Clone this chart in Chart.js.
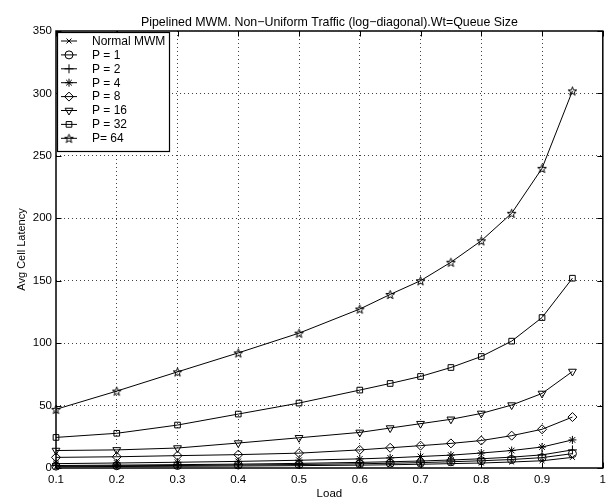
<!DOCTYPE html>
<html>
<head>
<meta charset="utf-8">
<script src="https://cdn.jsdelivr.net/npm/chart.js@4.4.1/dist/chart.umd.min.js"></script>
<style>
  html, body { margin: 0; padding: 0; background: #fff; }
  canvas { display: block; }
</style>
</head>
<body>
<canvas id="c" width="611" height="498"></canvas>
<script>
// ---- data ----
const loads = [0.1, 0.2, 0.3, 0.4, 0.5, 0.6, 0.65, 0.7, 0.75, 0.8, 0.85, 0.9, 0.95];
const normalMWM = [1.0, 1.2, 1.4, 1.6, 1.9, 2.3, 2.6, 3.0, 3.5, 4.0, 4.8, 5.8, 8.5];
const p1  = [1.5, 1.8, 2.0, 2.4, 2.8, 3.4, 3.8, 4.3, 5.0, 5.8, 6.8, 8.3, 11.5];
const p2  = [2.0, 2.3, 2.7, 3.1, 3.7, 4.5, 5.0, 5.6, 6.4, 7.4, 8.7, 10.5, 14.5];
const p4  = [3.5, 4.0, 4.6, 5.3, 6.2, 7.3, 8.1, 9.2, 10.3, 12.0, 14.0, 16.8, 22.5];
const p8  = [8.5, 9.0, 9.9, 10.7, 11.9, 14.5, 16.2, 17.9, 19.7, 22.0, 25.9, 31.0, 40.8];
const p16 = [14.0, 14.5, 16.0, 20.0, 24.2, 28.5, 32.0, 35.5, 39.0, 43.7, 50.4, 59.7, 77.3];
const p32 = [24.5, 27.8, 34.4, 43.2, 52.0, 62.4, 67.7, 73.3, 80.5, 89.3, 101.6, 120.5, 152.0];
const p64 = [47.0, 61.6, 77.0, 92.2, 108.0, 127.3, 139.0, 150.0, 164.8, 182.0, 204.0, 240.0, 302.0];

const seriesNames = ['Normal MWM', 'P = 1', 'P = 2', 'P = 4', 'P = 8', 'P = 16', 'P = 32', 'P= 64'];
const seriesValues = [normalMWM, p1, p2, p4, p8, p16, p32, p64];

const xTickValues = [0.1, 0.2, 0.3, 0.4, 0.5, 0.6, 0.7, 0.8, 0.9, 1.0];
const xTickLabels = ['0.1', '0.2', '0.3', '0.4', '0.5', '0.6', '0.7', '0.8', '0.9', '1'];
const yTickValues = [0, 50, 100, 150, 200, 250, 300, 350];
const yTickLabels = ['0', '50', '100', '150', '200', '250', '300', '350'];

const titleText = 'Pipelined MWM. Non\u2212Uniform Traffic (log\u2212diagonal).Wt=Queue Size';
const xTitle = 'Load';
const yTitle = 'Avg Cell Latency';

// ---- styles ----
const FONT = '"Liberation Sans", Arial, Helvetica, sans-serif';

function makePentagram(r) {
  const s = Math.ceil(r * 2 + 3);
  const c = document.createElement('canvas');
  c.width = s; c.height = s;
  const g = c.getContext('2d');
  g.translate(s / 2, s / 2 + 0.5);
  g.beginPath();
  for (let i = 0; i < 10; i++) {
    const rad = (i % 2) ? r * 0.4 : r;
    const a = -Math.PI / 2 + i * Math.PI / 5;
    const px = Math.cos(a) * rad, py = Math.sin(a) * rad;
    if (i === 0) g.moveTo(px, py); else g.lineTo(px, py);
  }
  g.closePath();
  g.strokeStyle = '#000';
  g.lineWidth = 1;
  g.stroke();
  return c;
}
const pentagram = makePentagram(4.6);

const markerStyles = [
  { pointStyle: 'crossRot', radius: 3.5, rotation: 0 },
  { pointStyle: 'circle', radius: 4, rotation: 0 },
  { pointStyle: 'cross', radius: 4.5, rotation: 0 },
  { pointStyle: 'star', radius: 4, rotation: 0 },
  { pointStyle: 'rectRot', radius: 4.5, rotation: 0 },
  { pointStyle: 'triangle', radius: 4.5, rotation: 180 },
  { pointStyle: 'rect', radius: 4, rotation: 0 },
  { pointStyle: pentagram, radius: 4.5, rotation: 0 }
];

const datasets = seriesNames.map((name, i) => ({
  label: name,
  data: loads.map((x, j) => ({ x: x, y: seriesValues[i][j] })),
  borderColor: '#000',
  borderWidth: 1,
  pointStyle: markerStyles[i].pointStyle,
  pointRadius: markerStyles[i].radius,
  pointRotation: markerStyles[i].rotation,
  pointBorderColor: '#000',
  pointBackgroundColor: 'rgba(0,0,0,0)',
  pointBorderWidth: 1,
  tension: 0,
  fill: false,
  clip: false
}));

const TICK_LEN = 5.5;

const framePlugin = {
  id: 'frame',
  afterDatasetsDraw(chart) {
    const ctx = chart.ctx;
    const a = chart.chartArea;
    const xs = chart.scales.x, ys = chart.scales.y;
    ctx.save();
    // inward ticks
    ctx.strokeStyle = '#000';
    ctx.lineWidth = 1;
    ctx.beginPath();
    xTickValues.forEach(v => {
      const px = Math.round(xs.getPixelForValue(v)) + 0.5;
      ctx.moveTo(px, a.bottom); ctx.lineTo(px, a.bottom - TICK_LEN);
      ctx.moveTo(px, a.top); ctx.lineTo(px, a.top + TICK_LEN);
    });
    yTickValues.forEach(v => {
      const py = Math.round(ys.getPixelForValue(v)) + 0.5;
      ctx.moveTo(a.left, py); ctx.lineTo(a.left + TICK_LEN, py);
      ctx.moveTo(a.right, py); ctx.lineTo(a.right - TICK_LEN, py);
    });
    ctx.stroke();

    // legend box
    const lx = a.left + 1, ly = a.top + 1, lw = 112, lh = 119;
    ctx.fillStyle = '#fff';
    ctx.fillRect(lx, ly, lw, lh);
    ctx.lineWidth = 1.2;
    ctx.strokeRect(lx + 0.5, ly + 0.5, lw, lh);
    ctx.font = '12px ' + FONT;
    ctx.textBaseline = 'middle';
    ctx.textAlign = 'left';
    chart.data.datasets.forEach((ds, i) => {
      const yy = ly + 9 + i * 13.9;
      ctx.strokeStyle = '#000';
      ctx.lineWidth = 1;
      ctx.beginPath();
      ctx.moveTo(lx + 4, yy); ctx.lineTo(lx + 20, yy);
      ctx.stroke();
      ctx.fillStyle = 'rgba(0,0,0,0)';
      ctx.strokeStyle = '#000';
      ctx.lineWidth = 1;
      Chart.helpers.drawPoint(ctx, {
        pointStyle: ds.pointStyle,
        radius: ds.pointRadius,
        rotation: ds.pointRotation,
        borderWidth: 1
      }, lx + 12, yy);
      ctx.fillStyle = '#000';
      ctx.fillText(ds.label, lx + 35, yy + 0.5);
    });

    // frame
    ctx.strokeStyle = '#000';
    ctx.lineWidth = 1.5;
    ctx.strokeRect(a.left, a.top, a.right - a.left, a.bottom - a.top);

    // titles
    ctx.fillStyle = '#000';
    ctx.font = '12.4px ' + FONT;
    ctx.textAlign = 'center';
    ctx.textBaseline = 'alphabetic';
    ctx.fillText(titleText, (a.left + a.right) / 2, 25.5);
    ctx.font = '11.5px ' + FONT;
    ctx.fillText(xTitle, (a.left + a.right) / 2, 497);
    ctx.font = '11px ' + FONT;
    ctx.translate(25, (a.top + a.bottom) / 2);
    ctx.rotate(-Math.PI / 2);
    ctx.fillText(yTitle, 0, 0);
    ctx.restore();
  }
};

const edgeColor = (vals) => (ctx) => {
  const v = ctx.tick && ctx.tick.value;
  if (v === undefined) return 'rgba(0,0,0,0)';
  if (Math.abs(v - vals[0]) < 1e-9 || Math.abs(v - vals[vals.length - 1]) < 1e-9) return 'rgba(0,0,0,0)';
  return 'rgba(0,0,0,0.75)';
};

new Chart(document.getElementById('c'), {
  type: 'line',
  data: { datasets: datasets },
  options: {
    responsive: false,
    animation: false,
    events: [],
    layout: { padding: { top: 31, right: 3, left: 0, bottom: 0 } },
    plugins: {
      legend: { display: false },
      title: { display: false },
      tooltip: { enabled: false }
    },
    scales: {
      x: {
        type: 'linear',
        min: 0.1,
        max: 1,
        afterBuildTicks(scale) { scale.ticks = xTickValues.map(v => ({ value: v })); },
        afterFit(scale) { scale.height = 30; },
        ticks: {
          autoSkip: false,
          maxRotation: 0,
          padding: 5,
          color: '#000',
          font: { family: FONT, size: 11.5 },
          callback: (v, i) => xTickLabels[i]
        },
        grid: { drawTicks: false, color: edgeColor(xTickValues), lineWidth: 1 },
        border: { display: false, dash: [1, 3] }
      },
      y: {
        type: 'linear',
        min: 0,
        max: 350,
        afterBuildTicks(scale) { scale.ticks = yTickValues.map(v => ({ value: v })); },
        afterFit(scale) { scale.width = 56; },
        ticks: {
          autoSkip: false,
          padding: 4,
          color: '#000',
          font: { family: FONT, size: 11.5 },
          callback: (v, i) => yTickLabels[i]
        },
        grid: { drawTicks: false, color: edgeColor(yTickValues), lineWidth: 1 },
        border: { display: false, dash: [1, 3] }
      }
    }
  },
  plugins: [framePlugin]
});
</script>
</body>
</html>
